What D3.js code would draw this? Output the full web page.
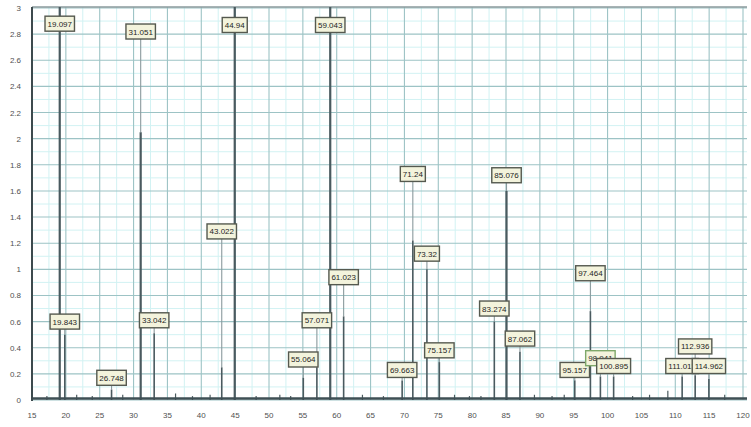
<!DOCTYPE html>
<html><head><meta charset="utf-8">
<script src="https://cdn.jsdelivr.net/npm/d3@7/dist/d3.min.js"></script>
<style>body{margin:0;background:#fff}svg{display:block}</style>
</head><body><svg id="c" width="751" height="427"></svg>
<script>
// Peak positions (x), label texts, peak intensities, label levels
const peakPos   = [19.097,19.843,26.748,31.051,33.042,43.022,44.94,55.064,57.071,59.043,61.023,69.663,71.24,73.32,75.157,83.274,85.076,87.062,95.157,97.464,98.941,100.895,111.013,112.936,114.962];
const peakLabel = ["19.097","19.843","26.748","31.051","33.042","43.022","44.94","55.064","57.071","59.043","61.023","69.663","71.24","73.32","75.157","83.274","85.076","87.062","95.157","97.464","98.941","100.895","111.013","112.936","114.962"];
const peakHeight= [3.4,0.5,0.08,2.05,0.51,0.25,3.4,0.17,0.25,3.4,0.64,0.15,1.22,1.0,0.29,0.6,1.6,0.37,0.15,0.68,0.18,0.18,0.18,0.19,0.16];
const labelLevel= [2.88,0.6,0.17,2.82,0.61,1.29,2.87,0.31,0.61,2.87,0.94,0.23,1.73,1.12,0.38,0.7,1.72,0.47,0.23,0.97,0.32,0.26,0.26,0.41,0.26];
// small unlabeled peaks near the baseline
const minorPos  = [17.2,21.6,23.9,28.4,36.2,38.7,41.3,48.1,51.6,53.2,63.8,66.9,77.4,79.6,81.3,89.2,91.8,93.6,103.7,106.2,108.9,117.3];
const minorVal  = [0.03,0.04,0.03,0.04,0.05,0.03,0.04,0.03,0.04,0.03,0.04,0.03,0.04,0.03,0.03,0.04,0.03,0.04,0.03,0.04,0.07,0.04];
const xTicks = d3.range(15,121,5);
const yTicks = [0,0.2,0.4,0.6,0.8,1,1.2,1.4,1.6,1.8,2,2.2,2.4,2.6,2.8,3];

const svg = d3.select("#c");
const L=32,R=743,T=7,B=400;
const x = d3.scaleLinear().domain([15,120]).range([L,R]);
const y = d3.scaleLinear().domain([0,3]).range([B,8]);

svg.append("defs").append("clipPath").attr("id","clip")
  .append("rect").attr("x",L).attr("y",T).attr("width",R-L+5).attr("height",B-T);

const g = svg.append("g");
// minor grid
g.selectAll(".mvx").data(d3.range(17.5,120,5)).join("line")
  .attr("x1",d=>x(d)).attr("x2",d=>x(d)).attr("y1",T).attr("y2",B)
  .attr("stroke","#d2f2f3").attr("stroke-width",1);
g.selectAll(".mhy").data(d3.range(0.1,3,0.2)).join("line")
  .attr("x1",L).attr("x2",R+4).attr("y1",d=>y(d)).attr("y2",d=>y(d))
  .attr("stroke","#d2f2f3").attr("stroke-width",1);
// major grid
g.selectAll(".vx").data(xTicks).join("line")
  .attr("x1",d=>x(d)).attr("x2",d=>x(d)).attr("y1",T).attr("y2",B)
  .attr("stroke","#9dc3c5").attr("stroke-width",1.1);
g.selectAll(".hy").data(yTicks).join("line")
  .attr("x1",L).attr("x2",R+4).attr("y1",d=>y(d)).attr("y2",d=>y(d))
  .attr("stroke","#9dc3c5").attr("stroke-width",1.1);
// frame top
g.append("line").attr("x1",L).attr("x2",R+4).attr("y1",T).attr("y2",T).attr("stroke","#8a9a9c").attr("stroke-width",1.5);

const pk = svg.append("g").attr("clip-path","url(#clip)");
// minor peaks
pk.selectAll(".mn").data(minorPos).join("line")
  .attr("x1",d=>x(d)).attr("x2",d=>x(d)).attr("y1",B)
  .attr("y2",(d,i)=>y(minorVal[i])).attr("stroke","#4b5b5f").attr("stroke-width",1.2);
// leader lines
pk.selectAll(".ld").data(peakPos).join("line")
  .attr("x1",d=>x(d)).attr("x2",d=>x(d))
  .attr("y1",(d,i)=>y(Math.min(peakHeight[i],3.1)))
  .attr("y2",(d,i)=>y(labelLevel[i]))
  .attr("stroke","#8a9a9d").attr("stroke-width",1.1);
// peaks
pk.selectAll(".pk").data(peakPos).join("line")
  .attr("x1",d=>x(d)).attr("x2",d=>x(d)).attr("y1",B)
  .attr("y2",(d,i)=>y(peakHeight[i]))
  .attr("stroke","#4a5a5f").attr("stroke-width",(d,i)=>peakHeight[i]>1.5?2.2:1.6);
// baseline noise band
svg.append("line").attr("x1",L).attr("x2",R+4).attr("y1",y(0.012)).attr("y2",y(0.012))
  .attr("stroke","#3f4f54").attr("stroke-width",2.4);

// left axis
svg.append("line").attr("x1",L).attr("x2",L).attr("y1",T).attr("y2",B+1).attr("stroke","#3d4a4e").attr("stroke-width",2);

// tick labels
svg.selectAll(".yt").data(yTicks).join("text")
  .attr("x",21).attr("y",d=>y(d)+3).attr("text-anchor","end")
  .attr("font-family","Liberation Sans, Arial, sans-serif").attr("font-size",8).attr("fill","#505050")
  .text(d=>d3.format("~g")(d));
svg.selectAll(".xt").data(xTicks).join("text")
  .attr("x",d=>x(d)).attr("y",418).attr("text-anchor","middle")
  .attr("font-family","Liberation Sans, Arial, sans-serif").attr("font-size",8).attr("fill","#505050")
  .text(d=>d);

// labels
const lab = svg.append("g").selectAll("g").data(peakPos).join("g")
  .attr("transform",(d,i)=>`translate(${x(d)},${y(labelLevel[i])})`);
lab.each(function(d,i){
  const gg=d3.select(this);
  const t=gg.append("text").attr("text-anchor","middle").attr("y",3)
    .attr("font-family","Liberation Sans, Arial, sans-serif").attr("font-size",8).attr("fill","#1e1e1e")
    .text(peakLabel[i]);
  const w=t.node().getComputedTextLength()+5;
  gg.insert("rect","text").attr("x",-w/2).attr("y",-7.5).attr("width",w).attr("height",15)
    .attr("fill","#f3f3dc").attr("stroke",i===20?"#7ea86a":"#55594f").attr("stroke-width",1.4);
});
</script></body></html>
